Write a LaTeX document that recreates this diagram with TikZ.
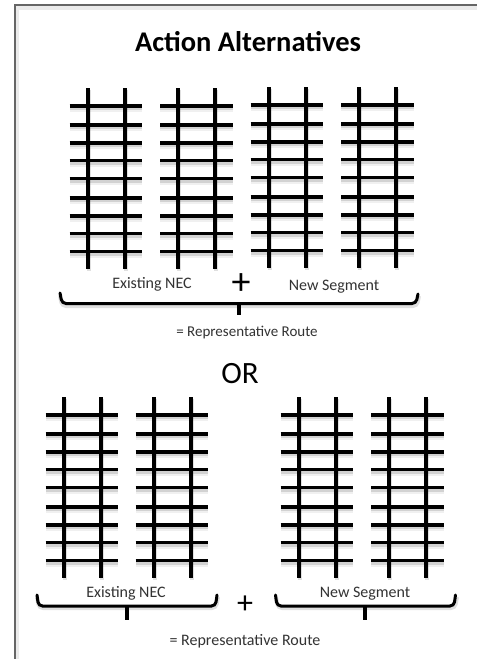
\documentclass[tikz,border=0pt]{standalone}
\usepackage{fontspec}
\setmainfont{Carlito}
\tikzset{
  tieline/.style={line width=3.6pt,black},
  railline/.style={line width=4pt,black},
  softshadow/.style={line width=4pt,black,opacity=0.12},
  softshadowb/.style={line width=7pt,black,opacity=0.06},
  bracket/.style={line width=3pt,black,rounded corners=4pt,line cap=round},
  bracketshadow/.style={black,opacity=0.12,line width=4pt,rounded corners=4pt},
  stem/.style={line width=3.6pt,black},
  caption/.style={inner sep=0pt,anchor=base,text=black!80,font=\fontsize{16}{18}\selectfont},
  frameline/.style={line width=1.4pt,black!60},
}
\newcommand{\onetrack}[2]{%
  \foreach \ty in {18,37,55,72.5,90.5,110,128,145.5,163.5}{
    \draw[softshadowb] (#1,#2+\ty+2.5) -- ++(72.5,0);
    \draw[softshadow] (#1,#2+\ty+2) -- ++(72.5,0);
  }
  \foreach \rx in {18,55}{
    \draw[softshadow] (#1+\rx+1,#2+2) -- ++(0,181);
  }
  \foreach \ty in {18,37,55,72.5,90.5,110,128,145.5,163.5}{
    \draw[tieline] (#1,#2+\ty) -- ++(72.5,0);
  }
  \foreach \rx in {18,55}{
    \draw[railline] (#1+\rx,#2) -- ++(0,181);
  }
}
\begin{document}
\begin{tikzpicture}[x=1pt,y=-1pt]
\useasboundingbox (0,0) rectangle (477,659);
\fill[white] (0,0) rectangle (477,659);
% frame
\draw[black,opacity=0.08,line width=4pt] (17,659) -- (17,8) -- (477,8);
\draw[frameline] (15,659) -- (15,5) -- (477,5);
% top tracks
\onetrack{69.5}{88}
\onetrack{160}{88}
\onetrack{250.5}{87}
\onetrack{341}{87}
% bottom tracks
\onetrack{45.5}{397}
\onetrack{135.5}{397}
\onetrack{280.5}{397}
\onetrack{371}{397}
% brackets
\draw[bracketshadow] (60,296) -- (62,306) -- (417,306) -- (419,296);
\draw[bracket] (60,293) -- (62,303.5) -- (416,303.5) -- (418,294);
\draw[stem] (239,303) -- (239,315);
\draw[bracketshadow] (37,597) -- (39,608) -- (216,608) -- (218,597);
\draw[bracket] (37,595) -- (38.5,606) -- (215.5,606) -- (217,595);
\draw[stem] (127,606) -- (127,620);
\draw[bracketshadow] (276,597) -- (278,608) -- (455,608) -- (457,597);
\draw[bracket] (275.5,595) -- (277,606) -- (454,606) -- (455.5,595);
\draw[stem] (365,606) -- (365,620);
% text
\node[inner sep=0pt,anchor=base,font=\fontsize{28.5}{32}\selectfont\bfseries] (title) at (248,51) {Action Alternatives};
\node[caption] (nec1) at (152,288) {Existing NEC};
\node[caption] (seg1) at (334,290) {New Segment};
\node[inner sep=0pt,font=\fontsize{38}{40}\selectfont] (plus1) at (241,284) {+};
\node[caption,font=\fontsize{15}{18}\selectfont] (eq1) at (247,336) {= Representative Route};
\node[inner sep=0pt,anchor=base,font=\fontsize{31}{34}\selectfont] (or) at (240,383) {OR};
\node[caption] (nec2) at (126,597.5) {Existing NEC};
\node[caption] (seg2) at (365,597.5) {New Segment};
\node[inner sep=0pt,font=\fontsize{32}{34}\selectfont] (plus2) at (245,605) {+};
\node[caption] (eq2) at (245,645) {= Representative Route};
\end{tikzpicture}
\end{document}
